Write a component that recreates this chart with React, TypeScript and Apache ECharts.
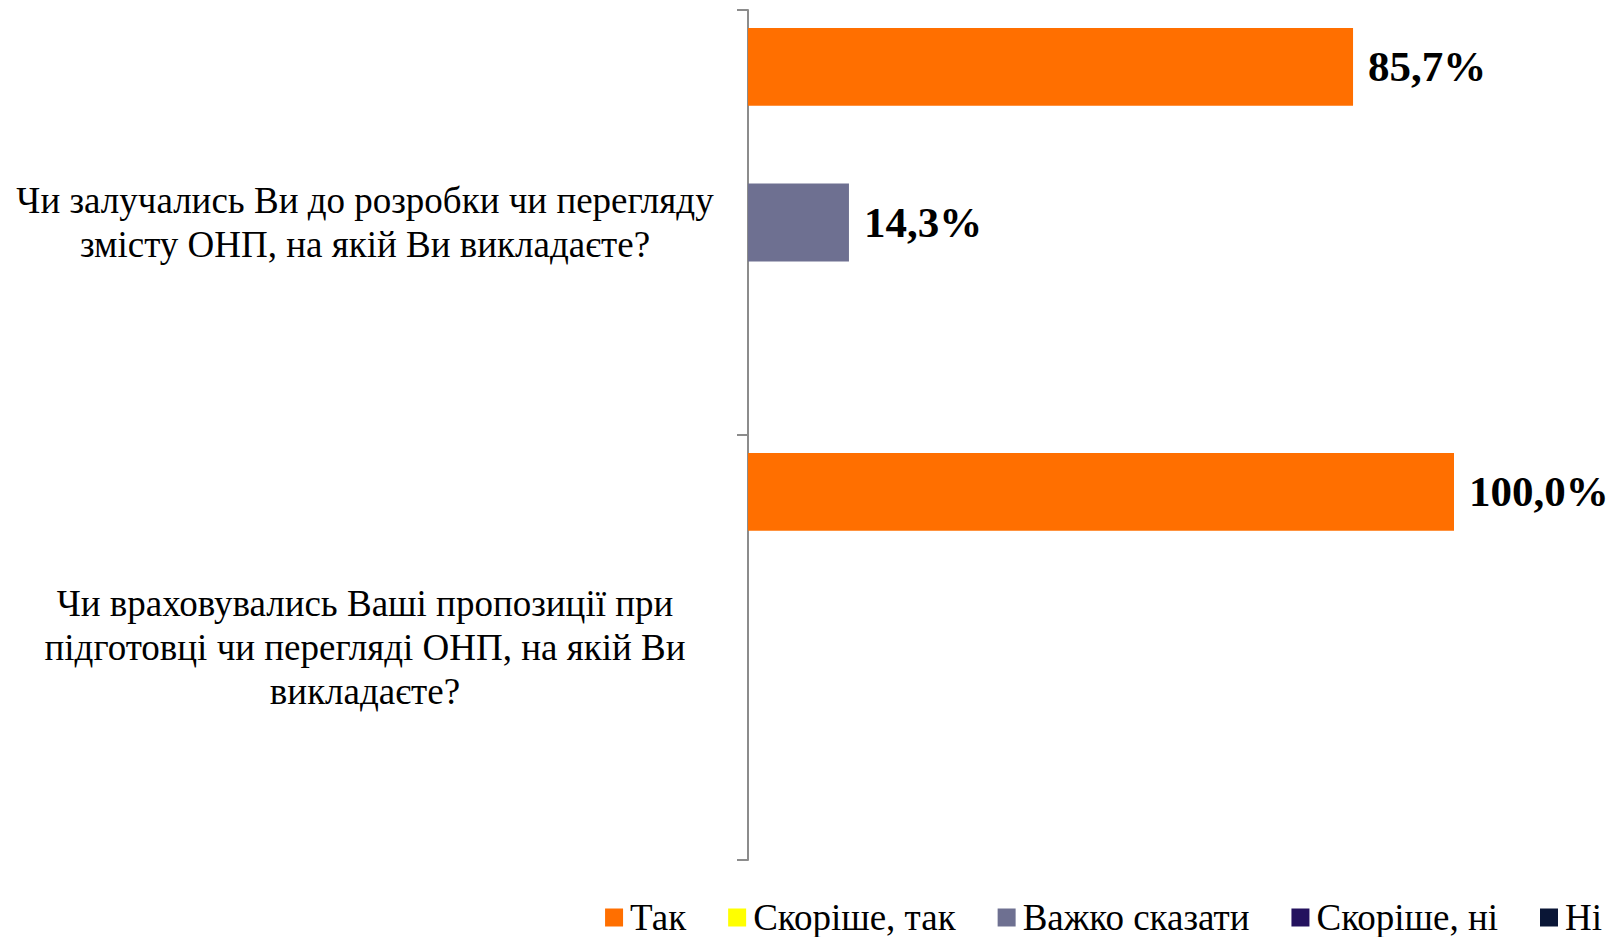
import React, { useEffect, useRef } from "react";
import * as echarts from "echarts";

const categories = [
  "Чи залучались Ви до розробки чи перегляду\nзмісту ОНП, на якій Ви викладаєте?",
  "Чи враховувались Ваші пропозиції при\nпідготовці чи перегляді ОНП, на якій Ви\nвикладаєте?",
];
const seriesNames = ["Так", "Скоріше, так", "Важко сказати", "Скоріше, ні", "Ні"];
const seriesColors = ["#FF6F00", "#FFFF00", "#6E7091", "#24125E", "#0A1636"];
const seriesValues = [
  [85.7, 100.0],
  [0, 0],
  [14.3, 0],
  [0, 0],
  [0, 0],
];

const FONT = "'Liberation Serif', 'Times New Roman', serif";

export default function App() {
  const ref = useRef<HTMLDivElement>(null);
  useEffect(() => {
    if (!ref.current) return;
    const chart = echarts.init(ref.current, undefined, { renderer: "svg" });
    chart.setOption({
      animation: false,
      backgroundColor: "#ffffff",
      grid: { left: 748, right: 168, top: 10, bottom: 77, containLabel: false },
      xAxis: {
        type: "value",
        min: 0,
        max: 100,
        show: false,
      },
      yAxis: {
        type: "category",
        inverse: true,
        data: categories,
        axisLine: { show: true, lineStyle: { color: "#8c8c8c", width: 2 } },
        axisTick: { show: true, length: 11, alignWithLabel: false, lineStyle: { color: "#8c8c8c", width: 2 } },
        axisLabel: {
          margin: 383,
          fontFamily: FONT,
          fontSize: 37,
          lineHeight: 44,
          color: "#000",
          align: "center",
        },
        splitLine: { show: false },
      },
      legend: {
        top: 899,
        right: 20,
        padding: 0,
        itemWidth: 18,
        itemHeight: 18,
        itemGap: 42,
        icon: "rect",
        textStyle: { fontFamily: FONT, fontSize: 37, lineHeight: 34, color: "#000", padding: [0, 0, 0, 2] },
        data: seriesNames,
      },
      series: seriesNames.map((name, i) => ({
        name,
        type: "bar",
        data: seriesValues[i],
        barGap: "0%",
        barCategoryGap: "8.5%",
        itemStyle: { color: seriesColors[i] },
        label: {
          show: true,
          position: "right",
          distance: 15,
          fontFamily: FONT,
          fontWeight: "bold",
          fontSize: 43,
          color: "#000",
          formatter: (p: any) => (p.value ? p.value.toFixed(1).replace(".", ",") + "%" : ""),
        },
      })),
    });
    return () => chart.dispose();
  }, []);
  return <div ref={ref} style={{ width: 1622, height: 937, position: "absolute", left: 0, top: 0 }} />;
}
